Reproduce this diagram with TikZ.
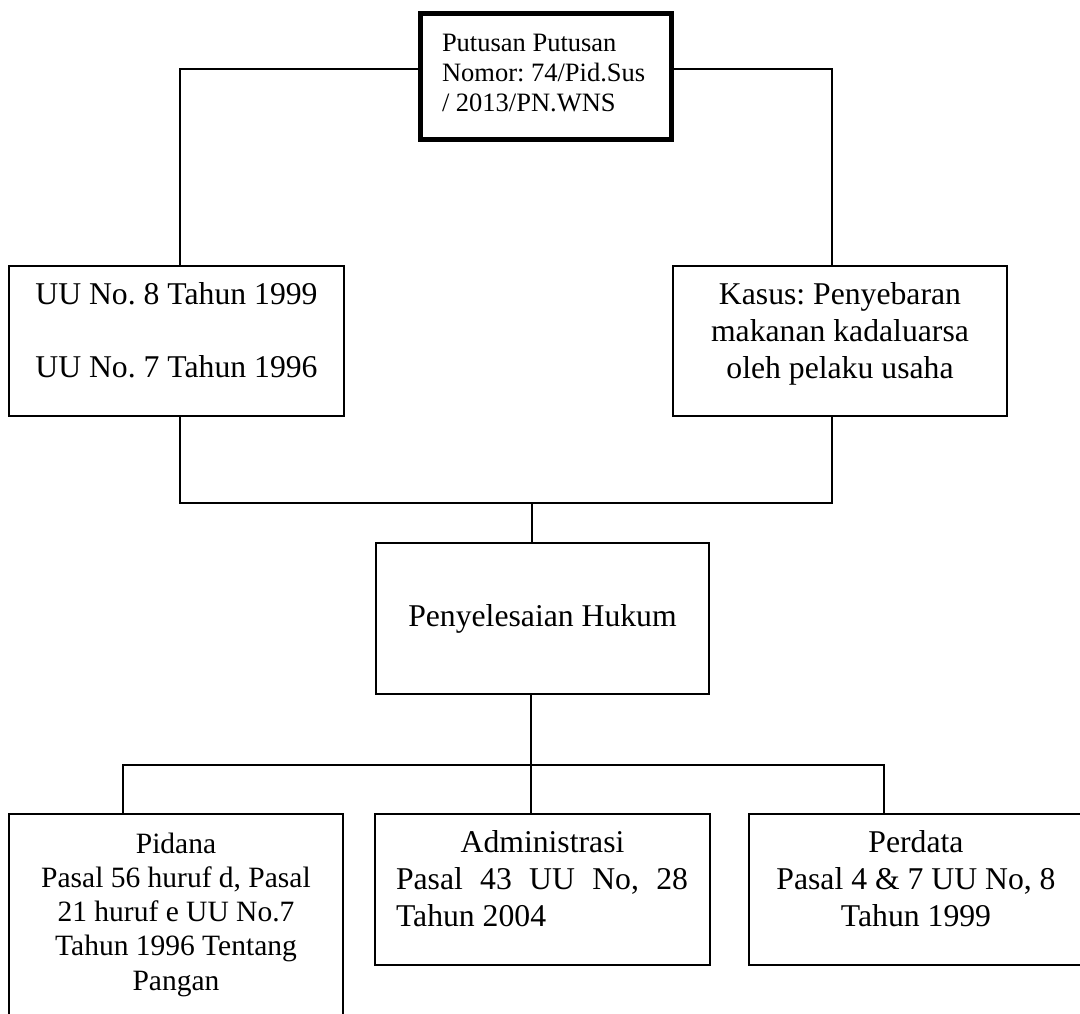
\documentclass[tikz,border=0pt]{standalone}
\usepackage{fontspec}
\setmainfont{Liberation Serif}
\frenchspacing
\newcommand\bxtext[6]{\parbox[c][#2][t]{#1}{\fontsize{#3}{#4}\selectfont\frenchspacing\tolerance=10000\hbadness=10000\vspace*{#5}#6}}
\tikzset{
  box/.style={draw, line width=1.6pt, inner sep=0pt, outer sep=0pt},
  thickbox/.style={draw, line width=5pt, inner sep=0pt, outer sep=0pt},
  conn/.style={line width=1.6pt}
}
\begin{document}
\begin{tikzpicture}[x=1pt,y=-1pt]
\useasboundingbox (0,0) rectangle (1080,1014);
\clip (0,0) rectangle (1080,1014);
\fill[white] (0,0) rectangle (1080,1014);

\node[thickbox] (top) at (545.5,76.75)
  {\bxtext{251pt}{125.5pt}{26.5}{30}{17pt}{\raggedright\leftskip=22pt\strut Putusan Putusan\\ Nomor: 74/Pid.Sus\\ / 2013/PN.WNS}};

\node[box] (uu) at (176.5,341)
  {\bxtext{335pt}{150pt}{31.7}{36.5}{13.4pt}{\centering\strut UU No. 8 Tahun 1999\\[36.5pt] UU No. 7 Tahun 1996}};

\node[box] (kasus) at (840,341)
  {\bxtext{334pt}{150pt}{31.7}{36.7}{13.3pt}{\centering\strut Kasus: Penyebaran\\ makanan kadaluarsa\\ oleh pelaku usaha}};

\node[box] (hukum) at (542.5,618.5)
  {\bxtext{333pt}{151pt}{31.7}{36.7}{58pt}{\centering\strut Penyelesaian Hukum}};

\node[box] (pidana) at (176,924)
  {\bxtext{334pt}{220pt}{29.5}{34.2}{15.4pt}{\centering\strut Pidana\\ Pasal 56 huruf d, Pasal\\ 21 huruf e UU No.7\\ Tahun 1996 Tentang\\ Pangan}};

\node[box] (admin) at (542.5,889.5)
  {\bxtext{335pt}{151pt}{31.7}{36.7}{13.3pt}{\centerline{\strut Administrasi}\leftskip=21pt\rightskip=22pt\noindent Pasal 43 UU No, 28\linebreak Tahun 2004}};

\node[box] (perdata) at (916,889.5)
  {\bxtext{334pt}{151pt}{31.7}{36.7}{13.3pt}{\centering\strut Perdata\\ Pasal 4 \& 7 UU No, 8\\ Tahun 1999}};

\coordinate (jl) at (180,69);
\coordinate (jr) at (832,69);
\coordinate (mc) at (532,503);
\coordinate (bc) at (531,765);
\coordinate (bl) at (123,765);
\coordinate (br) at (884,765);

\draw[conn] (top.west |- jl) -- (jl) -- (jl |- uu.north);
\draw[conn] (top.east |- jr) -- (jr) -- (jr |- kasus.north);
\draw[conn] (uu.south -| jl) |- (mc) -| (kasus.south -| jr);
\draw[conn] (mc) -- (mc |- hukum.north);
\draw[conn] (hukum.south -| bc) -- (admin.north -| bc);
\draw[conn] (pidana.north -| bl) |- (br) -- (perdata.north -| br);
\end{tikzpicture}
\end{document}
